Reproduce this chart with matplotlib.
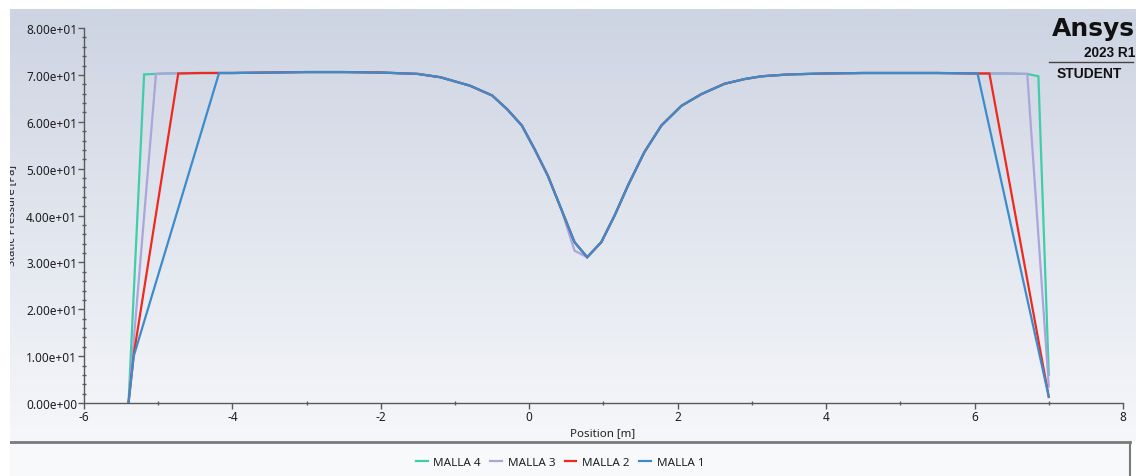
import numpy as np
import matplotlib
matplotlib.use("Agg")
import matplotlib.pyplot as plt
from matplotlib.ticker import FuncFormatter, MultipleLocator
from matplotlib.patches import Rectangle
from matplotlib.lines import Line2D

plt.rcParams['font.family'] = ['Noto Sans', 'DejaVu Sans']

# Shared pressure profile through the throat region (position [m], static pressure [Pa])
core_x = [-4.0, -3.5, -3.0, -2.5, -2.0, -1.5, -1.2, -0.8, -0.5, -0.3, -0.1, 0.07,
          0.25, 0.43, 0.61, 0.78, 0.97, 1.15, 1.33, 1.55, 1.78, 2.05, 2.32, 2.63,
          2.9, 3.13, 3.5, 4.0, 4.5, 5.0, 5.5]
core_y = [70.4, 70.5, 70.6, 70.6, 70.5, 70.2, 69.5, 67.7, 65.6, 62.7, 59.2, 54.2,
          48.5, 41.4, 34.3, 31.1, 34.3, 40.0, 46.4, 53.5, 59.2, 63.4, 65.9, 68.1,
          69.1, 69.7, 70.1, 70.3, 70.4, 70.4, 70.4]
core_y_m3 = [70.4, 70.5, 70.6, 70.6, 70.5, 70.2, 69.5, 67.7, 65.6, 62.7, 59.2, 54.2,
             48.5, 41.4, 32.5, 31.1, 34.3, 40.0, 46.4, 53.5, 59.2, 63.4, 65.9, 68.1,
             69.1, 69.7, 70.1, 70.3, 70.4, 70.4, 70.4]

# Inlet / outlet segments for each mesh
m4_left_x, m4_left_y = [-5.40, -5.19, -4.9, -4.5], [0.0, 70.1, 70.3, 70.4]
m4_right_x, m4_right_y = [6.0, 6.4, 6.71, 6.86, 7.0], [70.3, 70.3, 70.2, 69.7, 6.0]

m3_left_x, m3_left_y = [-5.40, -5.03, -4.7, -4.4], [0.0, 70.2, 70.4, 70.4]
m3_right_x, m3_right_y = [6.0, 6.4, 6.71, 7.0], [70.3, 70.3, 70.2, 3.5]

m2_left_x, m2_left_y = [-5.40, -5.33, -4.73, -4.4], [0.0, 10.3, 70.3, 70.4]
m2_right_x, m2_right_y = [6.0, 6.2, 7.0], [70.3, 70.3, 1.3]

m1_left_x, m1_left_y = [-5.40, -5.33, -4.18], [0.0, 10.0, 70.4]
m1_right_x, m1_right_y = [6.04, 7.0], [70.3, 1.3]

series_labels = ["MALLA 4", "MALLA 3", "MALLA 2", "MALLA 1"]
series_colors = ["#40cdaa", "#aaa5dc", "#f0281e", "#3c8ccd"]

series = [
    (m4_left_x + core_x + m4_right_x, m4_left_y + core_y + m4_right_y),
    (m3_left_x + core_x + m3_right_x, m3_left_y + core_y_m3 + m3_right_y),
    (m2_left_x + core_x + m2_right_x, m2_left_y + core_y + m2_right_y),
    (m1_left_x + core_x + m1_right_x, m1_left_y + core_y + m1_right_y),
]

W, H = 1136, 477
fig = plt.figure(figsize=(W / 100, H / 100), dpi=100)
fig.patch.set_facecolor("white")

# Graded background of the plot window
bg = fig.add_axes([10 / W, 1 - 443 / H, (W - 10) / W, 433 / H], zorder=-2)
top_c = np.array([205, 212, 226]) / 255
bot_c = np.array([246, 247, 250]) / 255
t = np.linspace(0, 1, 256)[:, None]
grad = top_c[None, :] * (1 - t) + bot_c[None, :] * t
bg.imshow(grad[:, None, :], aspect="auto", extent=[0, 1, 0, 1])
bg.set_axis_off()

# Legend strip
lg = fig.add_axes([10 / W, 0, (1130 - 10) / W, 34 / H], zorder=-1)
lg.set_facecolor("#f8f9fa")
lg.set_xticks([]); lg.set_yticks([])
for s in ["left", "bottom"]:
    lg.spines[s].set_visible(False)
lg.spines["top"].set_color("#7a7a7a"); lg.spines["top"].set_linewidth(2)
lg.spines["right"].set_color("#7a7a7a"); lg.spines["right"].set_linewidth(1.5)

ax = fig.add_axes([84 / W, 1 - 404 / H, (1123 - 84) / W, 375 / H])
ax.patch.set_alpha(0)
for (xs, ys), c in zip(series, series_colors):
    ax.plot(xs, ys, color=c, lw=1.6, solid_joinstyle="miter")

ax.set_xlim(-6, 8)
ax.set_ylim(0, 80)
ax.xaxis.set_major_locator(MultipleLocator(2))
ax.xaxis.set_minor_locator(MultipleLocator(1))
ax.yaxis.set_major_locator(MultipleLocator(10))
ax.yaxis.set_minor_locator(MultipleLocator(2))
ax.yaxis.set_major_formatter(FuncFormatter(lambda v, p: f"{v:.2e}"))
ax.xaxis.set_major_formatter(FuncFormatter(lambda v, p: f"{v:g}"))
for s in ["top", "right"]:
    ax.spines[s].set_visible(False)
for s in ["left", "bottom"]:
    ax.spines[s].set_color("#5a5a5a")
    ax.spines[s].set_linewidth(1.0)
ax.tick_params(which="major", direction="out", length=4, width=1, color="#5a5a5a",
               labelsize=8.5, labelcolor="#1e1e1e", pad=1)
ax.tick_params(which="minor", direction="inout", length=3, width=1, color="#5a5a5a")

fig.text(603 / W, 1 - 434 / H, "Position [m]", ha="center", va="center",
         fontsize=8.3, color="#222222")

# Vertical axis title, partly hidden behind the left margin
fig.text(11.5 / W, 1 - 216 / H, "Static Pressure [Pa]", rotation=90, ha="center",
         va="center", fontsize=8, color="#222222")
fig.add_artist(Rectangle((0, 0), 10 / W, 1, transform=fig.transFigure,
                         facecolor="white", edgecolor="none", zorder=10))

handles = [Line2D([], [], color=c, lw=1.6) for c in series_colors]
fig.legend(handles, series_labels, loc="center", bbox_to_anchor=(560 / W, 1 - 463 / H),
           ncol=4, frameon=False, fontsize=8.4, handlelength=1.0, handletextpad=0.5,
           columnspacing=0.8, labelcolor="#222222")

# Product badge
fig.text(1135 / W, 1 - 29 / H, "Ansys", ha="right", va="center", fontsize=18,
         fontweight="bold", family="DejaVu Sans", color="#111111")
fig.text(1135 / W, 1 - 53 / H, "2023 R1", ha="right", va="center", fontsize=9.8,
         fontweight="bold", family="Liberation Sans", color="#111111")
fig.add_artist(Line2D([1049 / W, 1133 / W], [1 - 63 / H, 1 - 63 / H],
                      transform=fig.transFigure, color="#444444", lw=1))
fig.text(1089 / W, 1 - 74 / H, "STUDENT", ha="center", va="center", fontsize=10,
         fontweight="bold", family="Liberation Sans", color="#111111")

fig.savefig("out.png", dpi=100)
